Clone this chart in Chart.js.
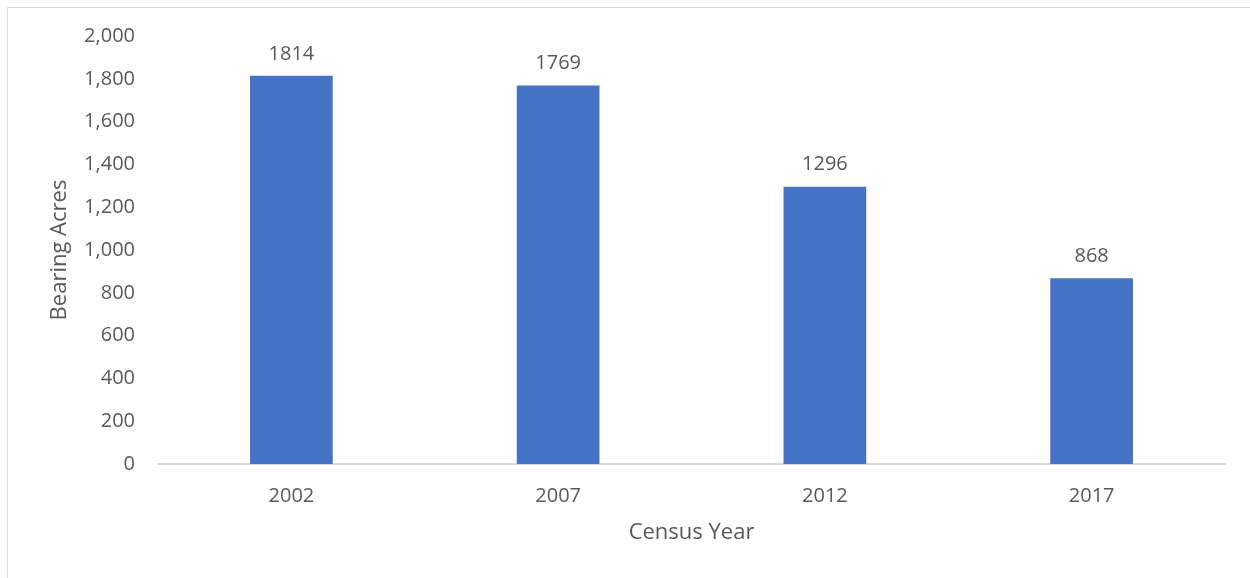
<!DOCTYPE html>
<html>
<head>
<meta charset="utf-8">
<script src="https://cdn.jsdelivr.net/npm/chart.js@4.4.1/dist/chart.umd.min.js"></script>
<style>
  html, body { margin: 0; padding: 0; background: #fff; }
  #wrap { position: relative; width: 1250px; height: 578px; overflow: hidden; }
  #frame { position: absolute; left: 7px; top: 7px; width: 1300px; height: 700px;
           border: 1px solid #D9D9D9; pointer-events: none; }
  canvas { position: absolute; left: 0; top: 0; }
</style>
</head>
<body>
<div id="wrap">
  <canvas id="acres" width="1250" height="578"></canvas>
  <div id="frame"></div>
</div>
<script>
const years = ["2002", "2007", "2012", "2017"];
const bearingAcres = [1814, 1769, 1296, 868];
const yTicks = [0, 200, 400, 600, 800, 1000, 1200, 1400, 1600, 1800, 2000];

const textColor = "#595959";
const fontFamily = "'Open Sans', sans-serif";

// value labels above each bar
const barLabels = {
    id: "barLabels",
    afterDatasetsDraw(chart) {
        const ctx = chart.ctx;
        const meta = chart.getDatasetMeta(0);
        ctx.save();
        ctx.font = "20px " + fontFamily;
        ctx.fillStyle = textColor;
        ctx.textAlign = "center";
        ctx.textBaseline = "middle";
        meta.data.forEach((bar, i) => {
            ctx.fillText(String(bearingAcres[i]), bar.x, bar.y - 22);
        });
        ctx.restore();
    }
};

new Chart(document.getElementById("acres").getContext("2d"), {
    type: "bar",
    data: {
        labels: years,
        datasets: [{
            label: "Bearing Acres",
            data: bearingAcres,
            backgroundColor: "#4472C4",
            barPercentage: 0.62,
            categoryPercentage: 0.5
        }]
    },
    options: {
        responsive: false,
        animation: false,
        layout: { padding: { top: 36, right: 25, bottom: 0, left: 0 } },
        plugins: {
            legend: { display: false },
            tooltip: { enabled: false }
        },
        scales: {
            x: {
                grid: { display: false, drawTicks: false },
                border: { display: true, color: "#D9D9D9", width: 2 },
                ticks: { color: textColor, font: { family: fontFamily, size: 20 }, padding: 20 },
                title: {
                    display: true, text: "Census Year", color: textColor,
                    font: { family: fontFamily, size: 22 }, padding: { top: 0, bottom: 32 }
                },
                afterFit(scale) { scale.height = 114; }
            },
            y: {
                min: 0, max: 2000,
                afterBuildTicks(scale) { scale.ticks = yTicks.map(v => ({ value: v })); },
                grid: { display: false, drawTicks: false },
                border: { display: false },
                ticks: {
                    color: textColor, font: { family: fontFamily, size: 20 }, padding: 23,
                    callback: v => v.toLocaleString("en-US")
                },
                title: {
                    display: true, text: "Bearing Acres", color: textColor,
                    font: { family: fontFamily, size: 22 }, padding: { top: 47, bottom: 0 }
                },
                afterFit(scale) { scale.width = 158; }
            }
        }
    },
    plugins: [barLabels]
});
</script>
</body>
</html>
